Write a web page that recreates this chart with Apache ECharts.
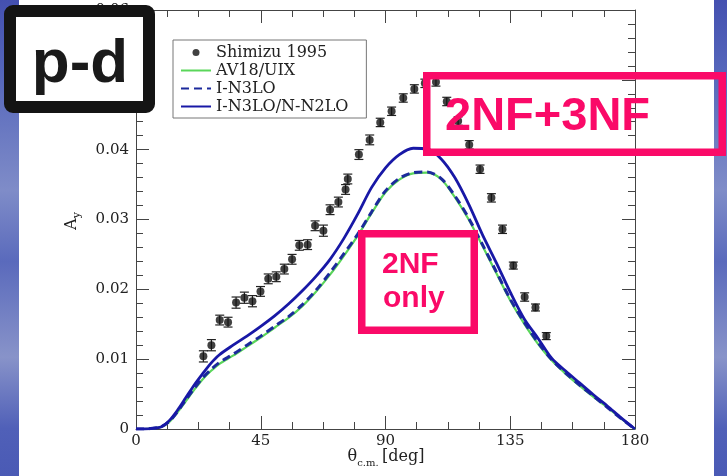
<!DOCTYPE html>
<html>
<head>
<meta charset="utf-8">
<script src="https://cdn.jsdelivr.net/npm/echarts@6/dist/echarts.min.js"></script>
</head>
<body style="margin:0;background:#fff">
<div id="main" style="width:727px;height:476px"></div>
<script>
// Shimizu 1995 data (angle, Ay, error)
var expAngle=[24.3,27.2,30.2,33.2,36.1,39.1,42.0,44.9,47.7,50.6,53.5,56.3,58.9,61.9,64.6,67.6,70.0,73.0,75.6,76.4,80.4,84.3,88.1,92.2,96.4,100.4,104.2,108.2,112.1,116.2,120.2,124.1,128.2,132.2,136.1,140.2,144.1,148.0];
var expAy=[0.0104,0.0120,0.0156,0.0153,0.0181,0.0188,0.0183,0.0197,0.0215,0.0218,0.0229,0.0243,0.0263,0.0264,0.0291,0.0284,0.0314,0.0325,0.0343,0.0358,0.0393,0.0414,0.0439,0.0455,0.0474,0.0487,0.0495,0.0497,0.0469,0.0441,0.0407,0.0372,0.0331,0.0286,0.0234,0.0189,0.0174,0.0133];
var expErr=[0.0008,0.0008,0.0007,0.0007,0.0008,0.0008,0.0008,0.0007,0.0007,0.0007,0.0007,0.0007,0.0007,0.0007,0.0007,0.0008,0.0007,0.0007,0.0007,0.0007,0.0007,0.0007,0.0006,0.0006,0.0006,0.0006,0.0006,0.0006,0.0006,0.0006,0.0006,0.0006,0.0006,0.0006,0.0005,0.0006,0.0005,0.0005];

// theory curves
var curveAngle=[0,3,6,9,12,15,18,21,24,27,30,35,40,45,50,55,60,65,70,75,80,85,90,95,100,105,110,115,120,125,130,135,140,145,150,155,160,165,170,175,180];
var av18=[0,0,0.0001,0.0003,0.0010,0.0024,0.0040,0.0056,0.0071,0.0083,0.0093,0.0105,0.0118,0.0131,0.0145,0.0159,0.0176,0.0197,0.0221,0.0248,0.0277,0.0309,0.0339,0.0357,0.0366,0.0367,0.0358,0.0332,0.0300,0.0262,0.0223,0.0184,0.0151,0.0122,0.0098,0.0079,0.0062,0.0046,0.0031,0.0015,0];
var n3lo=[0,0,0.0001,0.0003,0.0011,0.0025,0.0042,0.0058,0.0073,0.0085,0.0095,0.0107,0.0120,0.0133,0.0147,0.0161,0.0178,0.0199,0.0224,0.0251,0.0279,0.0311,0.0341,0.0359,0.0367,0.0368,0.0359,0.0334,0.0302,0.0264,0.0225,0.0186,0.0153,0.0124,0.0099,0.0080,0.0063,0.0047,0.0031,0.0015,0];
var n3loN2lo=[0,0,0.0001,0.0003,0.0012,0.0027,0.0045,0.0063,0.0079,0.0094,0.0106,0.0120,0.0133,0.0147,0.0162,0.0179,0.0198,0.0219,0.0243,0.0273,0.0308,0.0346,0.0374,0.0393,0.0402,0.0401,0.0387,0.0360,0.0322,0.0278,0.0238,0.0196,0.0158,0.0130,0.0101,0.0083,0.0066,0.0049,0.0033,0.0016,0];

var xTicks=[0,45,90,135,180];
var yTicks=[0,0.01,0.02,0.03,0.04,0.05,0.06];

var pair=function(xs,ys){
	var out=[];
	for(var i=0;i<xs.length;i++){ out.push([xs[i],ys[i]]); }
	return out;
};
var expData=[];
for(var i=0;i<expAngle.length;i++){ expData.push([expAngle[i],expAy[i],expErr[i]]); }

var serif='"DejaVu Serif", serif';
var sans='"Liberation Sans", Arial, sans-serif';
var pink='#fa0a68';
var axisCol='#444';

var myChart=echarts.init(document.getElementById('main'));

var xAxisBase=function(pos,showLabel){
	return {
		type:'value',position:pos,
		min:xTicks[0],max:xTicks[xTicks.length-1],interval:45,
		axisLine:{show:true,onZero:false,lineStyle:{color:axisCol,width:1}},
		axisTick:{show:true,inside:true,length:13,lineStyle:{color:axisCol}},
		minorTick:{show:true,splitNumber:4,length:7,lineStyle:{color:axisCol}},
		splitLine:{show:false},
		axisLabel:{show:showLabel,margin:5,color:'#222',fontFamily:serif,fontSize:15}
	};
};
var yAxisBase=function(pos,showLabel){
	return {
		type:'value',position:pos,
		min:yTicks[0],max:yTicks[yTicks.length-1],interval:0.01,
		axisLine:{show:true,onZero:false,lineStyle:{color:axisCol,width:1}},
		axisTick:{show:true,inside:true,length:13,lineStyle:{color:axisCol}},
		minorTick:{show:true,splitNumber:5,length:7,lineStyle:{color:axisCol}},
		splitLine:{show:false},
		axisLabel:{show:showLabel,margin:7,color:'#222',fontFamily:serif,fontSize:15,
			formatter:function(v){ return v===0?'0':v.toFixed(2); }}
	};
};

// blue slide strips left and right
var slideBlue=new echarts.graphic.LinearGradient(0,0,0,1,[
	{offset:0,color:'#4450b0'},{offset:0.15,color:'#5566bb'},{offset:0.4,color:'#7f8cc8'},
	{offset:0.55,color:'#5a6abc'},{offset:0.75,color:'#8893c9'},{offset:0.9,color:'#5060b8'},{offset:1,color:'#4a5ab5'}
]);

var option={
	animation:false,
	grid:{left:136,right:92,top:10,bottom:47},
	legend:{
		orient:'vertical',left:173,top:40,
		backgroundColor:'#fff',borderColor:'#777',borderWidth:1,borderRadius:0,
		padding:[4,18,3,7],itemWidth:30,itemHeight:7,itemGap:1,
		textStyle:{fontFamily:serif,fontSize:16,color:'#222',lineHeight:17},
		data:[
			{name:'Shimizu 1995',icon:'circle'},
			{name:'AV18/UIX',itemStyle:{opacity:0}},
			{name:'I-N3LO',itemStyle:{opacity:0}},
			{name:'I-N3LO/N-N2LO',itemStyle:{opacity:0}}
		]
	},
	xAxis:[xAxisBase('bottom',true),xAxisBase('top',false)],
	yAxis:[yAxisBase('left',true),yAxisBase('right',false)],
	series:[
		{
			name:'AV18/UIX',type:'line',symbol:'none',smooth:0.3,
			lineStyle:{color:'#5ad65a',width:2.2},itemStyle:{color:'#5ad65a'},
			data:pair(curveAngle,av18)
		},
		{
			name:'I-N3LO',type:'line',symbol:'none',smooth:0.3,
			lineStyle:{color:'#1c2a9c',width:3,type:[8,5]},itemStyle:{color:'#1c2a9c'},
			data:pair(curveAngle,n3lo)
		},
		{
			name:'I-N3LO/N-N2LO',type:'line',symbol:'none',smooth:0.3,
			lineStyle:{color:'#1818a6',width:2.8},itemStyle:{color:'#1818a6'},
			data:pair(curveAngle,n3loN2lo)
		},
		{
			//error bars
			type:'custom',silent:true,
			renderItem:function(params,api){
				var x=api.value(0),y=api.value(1),e=api.value(2);
				var top=api.coord([x,y+e]);
				var bot=api.coord([x,y-e]);
				var st={stroke:'#222',lineWidth:1.2};
				return {type:'group',children:[
					{type:'line',shape:{x1:top[0],y1:top[1],x2:bot[0],y2:bot[1]},style:st},
					{type:'line',shape:{x1:top[0]-4.5,y1:top[1],x2:top[0]+4.5,y2:top[1]},style:st},
					{type:'line',shape:{x1:bot[0]-4.5,y1:bot[1],x2:bot[0]+4.5,y2:bot[1]},style:st}
				]};
			},
			encode:{x:0,y:1},
			data:expData
		},
		{
			name:'Shimizu 1995',type:'scatter',symbol:'circle',symbolSize:8,
			itemStyle:{color:'#111'},
			data:expData.map(function(d){ return [d[0],d[1]]; })
		}
	],
	graphic:[
		{type:'rect',shape:{x:0,y:0,width:19,height:476},style:{fill:slideBlue}},
		{type:'rect',shape:{x:714,y:0,width:13,height:476},style:{fill:slideBlue}},
		//axis names
		{type:'text',x:386,y:457,style:{text:'{a|θ}{s|c.m.} {a|[deg]}',align:'center',verticalAlign:'middle',
			rich:{a:{fontFamily:serif,fontSize:16,fill:'#222'},s:{fontFamily:serif,fontSize:10,fill:'#222',padding:[12,0,0,0]}}}},
		{type:'text',x:72,y:221,rotation:Math.PI/2,style:{text:'{a|A}{s|y}',align:'center',verticalAlign:'middle',
			rich:{a:{fontFamily:serif,fontSize:16,fill:'#222'},s:{fontFamily:serif,fontSize:11,fill:'#222',padding:[10,0,0,0]}}}},
		//p-d box
		{type:'rect',z:100,shape:{x:10,y:11,width:139,height:96,r:3},
			style:{fill:'#fff',stroke:'#141414',lineWidth:12,lineJoin:'round'}},
		{type:'text',z:101,style:{text:'p-d',x:80,y:65,fill:'#1a1a1a',
			font:'bold 62px '+sans,align:'center',verticalAlign:'middle'}},
		//2NF+3NF box
		{type:'rect',z:100,shape:{x:426.75,y:75.75,width:295.5,height:76.5},
			style:{fill:'transparent',stroke:pink,lineWidth:7.5}},
		{type:'text',z:101,style:{text:'2NF+3NF',x:445,y:117,fill:pink,
			font:'bold 47px '+sans,align:'left',verticalAlign:'middle'}},
		//2NF only box
		{type:'rect',z:100,shape:{x:361.75,y:233.75,width:112.5,height:96.5},
			style:{fill:'#fff',stroke:pink,lineWidth:7.5}},
		{type:'text',z:101,style:{text:'2NF',x:382,y:265,fill:pink,
			font:'bold 30px '+sans,align:'left',verticalAlign:'middle'}},
		{type:'text',z:101,style:{text:'only',x:383,y:299,fill:pink,
			font:'bold 30px '+sans,align:'left',verticalAlign:'middle'}}
	]
};
myChart.setOption(option);
</script>
</body>
</html>
